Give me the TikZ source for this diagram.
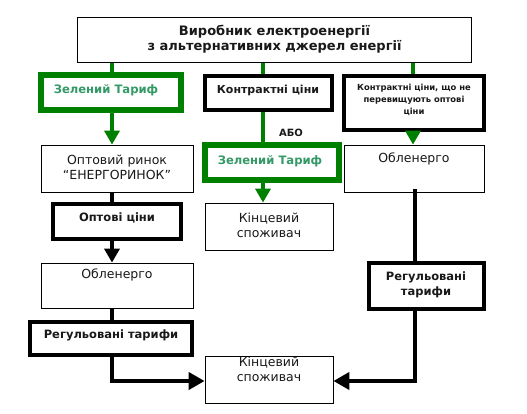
\documentclass[tikz,border=0pt]{standalone}
\usepackage{fontspec}
\setmainfont{DejaVu Sans}
\usetikzlibrary{arrows.meta}
\definecolor{gline}{RGB}{0,128,0}
\definecolor{gtext}{RGB}{51,153,102}
\begin{document}
\begin{tikzpicture}[x=1pt,y=-1pt,
  thinbox/.style={draw=black,line width=0.8pt,fill=white,inner sep=0pt,anchor=center},
  blkbox/.style={draw=black,line width=4pt,fill=white,inner sep=0pt,anchor=center},
  grnbox/.style={draw=gline,line width=6pt,fill=white,inner sep=0pt,anchor=center},
  txt/.style={align=center,inner sep=0pt,text=black!90},
  gline/.style={draw=gline,line width=4pt},
  bline/.style={draw=black,line width=4pt},
  tip/.style={-{Triangle[width=15pt,length=14pt]}},
  htip/.style={-{Triangle[width=17pt,length=16pt]}}
]
\useasboundingbox (0,0) rectangle (527,413);
% boxes
\node[thinbox,minimum width=394pt,minimum height=45pt] (top) at (274.5,40) {};
\node[grnbox,minimum width=140pt,minimum height=35pt] (g1) at (111,92.5) {};
\node[blkbox,minimum width=127pt,minimum height=34pt] (kc) at (268.5,93) {};
\node[blkbox,minimum width=140pt,minimum height=54pt] (kn) at (414,103) {};
\node[thinbox,minimum width=152pt,minimum height=47pt] (orr) at (117,168.5) {};
\node[grnbox,minimum width=134pt,minimum height=35pt] (g2) at (272,162.5) {};
\node[thinbox,minimum width=128pt,minimum height=47pt] (k1) at (269,226.5) {};
\node[thinbox,minimum width=140pt,minimum height=47pt] (obr) at (414,168.5) {};
\node[blkbox,minimum width=128pt,minimum height=35pt] (ot) at (117,221.5) {};
\node[thinbox,minimum width=152pt,minimum height=45pt] (obl) at (117,285.5) {};
\node[blkbox,minimum width=162pt,minimum height=33pt] (rl) at (111,338.5) {};
\node[thinbox,minimum width=128pt,minimum height=47pt] (k2) at (269,379.5) {};
\node[blkbox,minimum width=115pt,minimum height=46pt] (rr) at (426.5,286) {};
% texts
\node[txt,font=\bfseries\fontsize{13}{15}\selectfont] (ttop) at (274.5,39.5) {Виробник електроенергії\\з альтернативних джерел енергії};
\node[txt,text=gtext,font=\bfseries\fontsize{11.6}{13}\selectfont] (tg1) at (106,90.5) {Зелений Тариф};
\node[txt,font=\bfseries\fontsize{11}{12}\selectfont] (tkc) at (268,90.5) {Контрактні ціни};
\node[txt,font=\bfseries\fontsize{8.4}{12}\selectfont] (tkn) at (414,100) {Контрактні ціни, що не\\перевищують оптові\\ціни};
\node[txt,font=\fontsize{12.5}{15}\selectfont] (torr) at (117,167.5) {Оптовий ринок\\“ЕНЕРГОРИНОК”};
\node[txt,text=gtext,font=\bfseries\fontsize{11.6}{13}\selectfont] (tg2) at (270,161) {Зелений Тариф};
\node[txt,font=\fontsize{12.5}{15}\selectfont] (tk1) at (269,225.5) {Кінцевий\\споживач};
\node[txt,font=\fontsize{12.5}{15}\selectfont] (tobr) at (414,159) {Обленерго};
\node[txt,font=\bfseries\fontsize{11.5}{12}\selectfont] (tot) at (117,217.5) {Оптові ціни};
\node[txt,font=\fontsize{12.5}{15}\selectfont] (tobl) at (117,275) {Обленерго};
\node[txt,font=\bfseries\fontsize{11.5}{12}\selectfont] (trl) at (111,335) {Регульовані тарифи};
\node[txt,font=\fontsize{12.5}{15}\selectfont] (tk2) at (269,369) {Кінцевий\\споживач};
\node[txt,font=\bfseries\fontsize{11.5}{15}\selectfont] (trr) at (426,284.5) {Регульовані\\тарифи};
\node[txt,font=\bfseries\fontsize{10}{12}\selectfont] (abo) at (291,133) {АБО};
% column coordinates
\coordinate (ca) at (112,0);
\coordinate (cb) at (263,0);
\coordinate (cc) at (413,0);
\coordinate (cd) at (415,0);
% green connectors
\draw[gline] (top.south -| ca) -- (g1.north -| ca);
\draw[gline] (top.south -| cb) -- (kc.north -| cb);
\draw[gline] (top.south -| cc) -- (kn.north -| cc);
\draw[gline,tip] (g1.south -| ca) -- (orr.north -| ca);
\draw[gline] (kc.south -| cb) -- (g2.north -| cb);
\draw[gline,tip] (g2.south -| cb) -- (k1.north -| cb);
\draw[gline,tip] (kn.south -| cc) -- (obr.north -| cc);
% black connectors
\draw[bline] (orr.south -| ca) -- (ot.north -| ca);
\draw[bline,tip] (ot.south -| ca) -- (obl.north -| ca);
\draw[bline] (obl.south -| ca) -- (rl.north -| ca);
\draw[bline,htip] (rl.south -| ca) |- ([yshift=-1.5pt]k2.west);
\draw[bline] ([yshift=3pt]obr.south -| cd) -- (rr.north -| cd);
\draw[bline,htip] (rr.south -| cd) |- ([yshift=-1.5pt]k2.east);
\end{tikzpicture}
\end{document}
